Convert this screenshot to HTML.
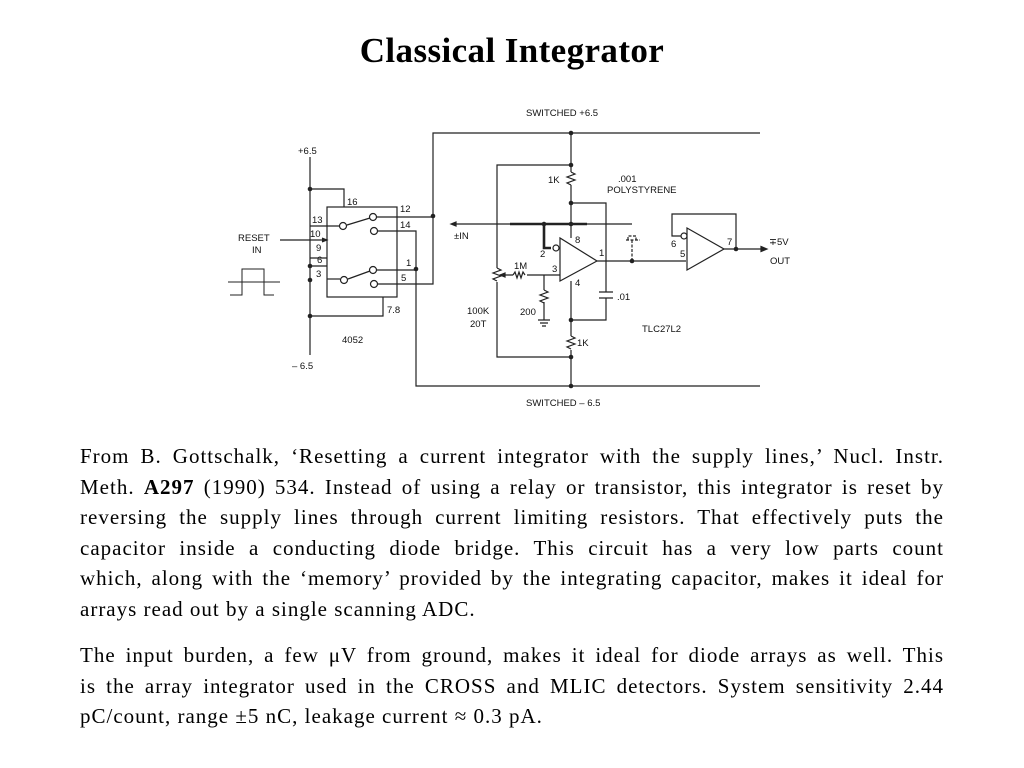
<!DOCTYPE html>
<html><head><meta charset="utf-8"><style>
body{margin:0;width:1024px;height:768px;background:#fff;position:relative;overflow:hidden;font-family:"Liberation Serif",serif}
h1{position:absolute;top:29px;left:0;width:1024px;text-align:center;margin:0;font-size:35px;font-weight:bold;line-height:44px;letter-spacing:0.4px}
.p{position:absolute;left:80px;width:864px;font-size:21px;line-height:30.6px;color:#000;letter-spacing:1px}
.p div{text-align:justify;text-align-last:justify;white-space:nowrap;height:30.6px}
.p div.l{text-align-last:left}
svg{position:absolute;left:0;top:0}
svg text{font-family:"Liberation Sans",sans-serif;font-size:9.5px;fill:#111}
</style></head><body>
<h1>Classical Integrator</h1>
<svg width="1024" height="430" viewBox="0 0 1024 430" stroke="#222" stroke-width="1.2" fill="none">
<path d="M310 157V355"/>
<path d="M310 189H344V207"/>
<rect x="327" y="207" width="70" height="90"/>
<path d="M310 226H339"/><circle cx="343" cy="226" r="3.5"/><path d="M347 225L370 218"/><circle cx="373" cy="217" r="3.5"/><path d="M377 217H433"/>
<circle cx="374" cy="231" r="3.5"/><path d="M378 231H416V386H760"/>
<path d="M280 240H327"/><path d="M322 238L327 240L322 242" fill="#222"/>
<path d="M310 258H327M310 266H327"/>
<path d="M327 279H340"/><circle cx="344" cy="280" r="3.5"/><path d="M348 279L370 271"/><circle cx="373" cy="270" r="3.5"/><path d="M377 270H416"/>
<circle cx="374" cy="284" r="3.5"/><path d="M378 284H433V133H760"/>
<path d="M383 297V316H310"/>
<path d="M230 295H242V269H264V295H274M228 282H280" stroke-width="1"/>
<g fill="#222" stroke="none"><circle cx="310" cy="189" r="2.3"/><circle cx="433" cy="216" r="2.3"/><circle cx="416" cy="269" r="2.3"/><circle cx="310" cy="266" r="2.3"/><circle cx="310" cy="280" r="2.3"/><circle cx="310" cy="316" r="2.3"/>
<circle cx="571" cy="133" r="2.3"/><circle cx="571" cy="165" r="2.3"/><circle cx="571" cy="203" r="2.3"/><circle cx="571" cy="224" r="2.3"/><circle cx="544" cy="224" r="2.3"/><circle cx="571" cy="320" r="2.3"/><circle cx="571" cy="357" r="2.3"/><circle cx="571" cy="386" r="2.3"/><circle cx="632" cy="261" r="2.3"/><circle cx="736" cy="249" r="2.3"/></g>
<path d="M571 133V172M571 185V238M571 281V336M571 350V386"/>
<path d="M571 172l4 2l-8 3l8 3l-8 3l4 2"/>
<path d="M571 336l4 2l-8 3l8 3l-8 3l4 2"/>
<path d="M571 165H497V268M497 282V357H571"/>
<path d="M497 268l4 2l-8 3l8 3l-8 3l4 2"/>
<path d="M571 203H606V292M606 298V320H571"/><path d="M599 292H613M599 298H613"/>
<path d="M455 224H632"/><path d="M451 224l5 -2v4z" fill="#222"/>
<path d="M510 224H587M544 224V248H551" stroke-width="2.6"/>
<circle cx="556" cy="248" r="3"/>
<path d="M560 238V281L597 261Z"/>
<path d="M597 261H686"/>
<path d="M626 240H640M628 240V236H636V240M632 240V261" stroke-dasharray="3 1.5"/>
<path d="M500 275H513M527 275H560"/><path d="M513 275l2 -3l2 6l2 -6l2 6l2 -6l2 3"/><path d="M500 275l5 -2v4z" fill="#222"/>
<path d="M544 275V290M544 302V320"/><path d="M544 290l4 2l-8 3l8 3l-8 3l4 2"/>
<path d="M538 320H550M540 323H548M542 326H546"/>
<path d="M687 228V270L724 249Z"/>
<circle cx="684" cy="236" r="3"/><path d="M681 236H672V214H736V249M724 249H762"/><path d="M767 249l-6 -2.5v5z" fill="#222"/>
<g stroke="none" fill="#111">
<text x="298" y="154">+6.5</text><text x="347" y="205">16</text><text x="400" y="212">12</text><text x="400" y="228">14</text>
<text x="312" y="223">13</text><text x="310" y="237">10</text><text x="316" y="251">9</text><text x="317" y="263">6</text><text x="316" y="277">3</text>
<text x="406" y="266">1</text><text x="401" y="281">5</text><text x="387" y="313">7.8</text>
<text x="238" y="241">RESET</text><text x="252" y="253">IN</text>
<text x="342" y="343">4052</text><text x="292" y="369">– 6.5</text>
<text x="526" y="116">SWITCHED  +6.5</text><text x="526" y="406">SWITCHED  – 6.5</text>
<text x="548" y="183">1K</text><text x="618" y="182">.001</text><text x="607" y="193">POLYSTYRENE</text>
<text x="454" y="239">±IN</text><text x="575" y="243">8</text><text x="540" y="257">2</text><text x="599" y="256">1</text><text x="552" y="272">3</text><text x="575" y="286">4</text>
<text x="514" y="269">1M</text><text x="617" y="300">.01</text><text x="467" y="314">100K</text><text x="470" y="327">20T</text><text x="520" y="315">200</text>
<text x="577" y="346">1K</text><text x="642" y="332">TLC27L2</text>
<text x="671" y="247">6</text><text x="680" y="257">5</text><text x="727" y="245">7</text><text x="769" y="245">∓5V</text><text x="770" y="264">OUT</text>
</g>
</svg>
<div class="p" style="top:441px">
<div>From B. Gottschalk, ‘Resetting a current integrator with the supply lines,’ Nucl. Instr.</div>
<div>Meth. <b>A297</b> (1990) 534. Instead of using a relay or transistor, this integrator is reset by</div>
<div>reversing the supply lines through current limiting resistors. That effectively puts the</div>
<div>capacitor inside a conducting diode bridge. This circuit has a very low parts count</div>
<div>which, along with the ‘memory’ provided by the integrating capacitor, makes it ideal for</div>
<div class="l">arrays read out by a single scanning ADC.</div>
</div>
<div class="p" style="top:640px">
<div>The input burden, a few μV from ground, makes it ideal for diode arrays as well. This</div>
<div>is the array integrator used in the CROSS and MLIC detectors. System sensitivity 2.44</div>
<div class="l">pC/count, range ±5 nC, leakage current ≈ 0.3 pA.</div>
</div>
</body></html>
